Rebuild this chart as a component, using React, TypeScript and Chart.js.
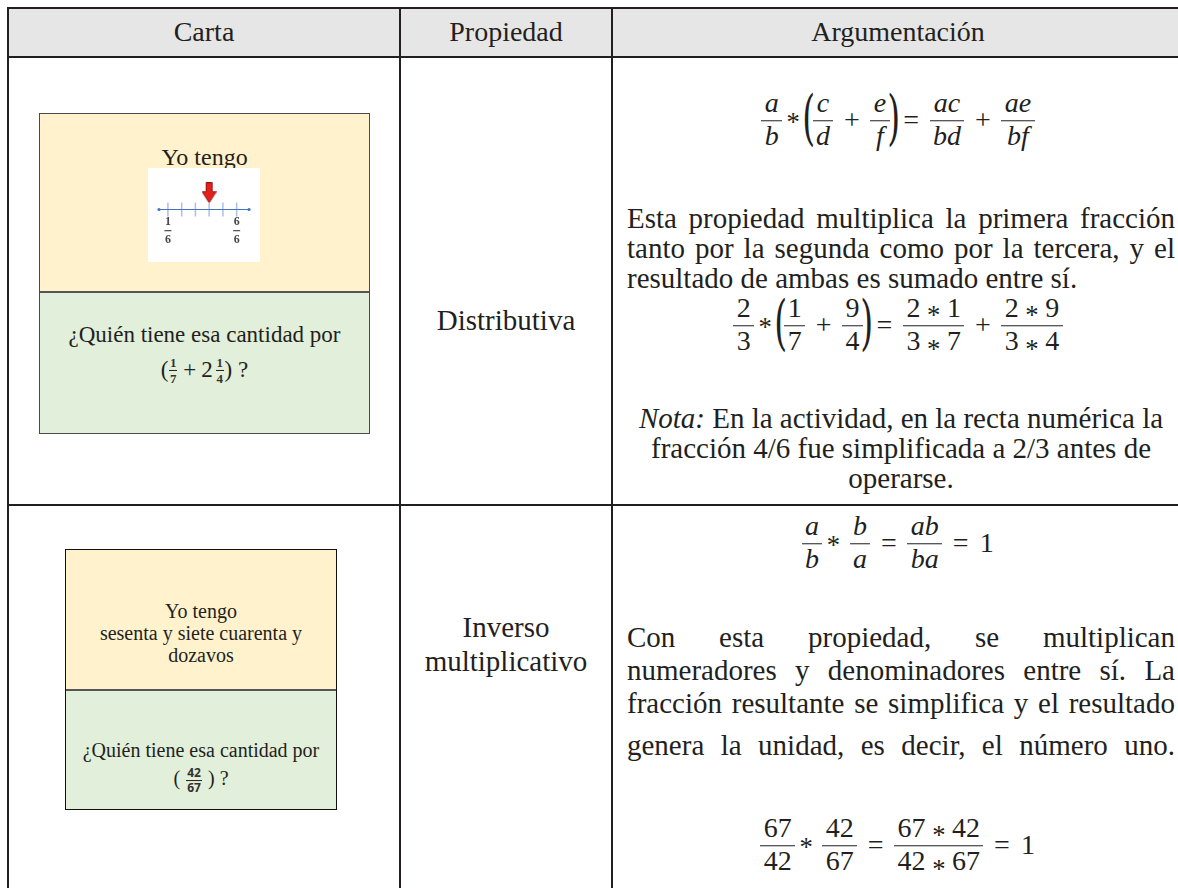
import React, { useEffect, useRef } from "react";
import Chart from "chart.js/auto";

// ---------- data ----------
const HEADERS = ["Carta", "Propiedad", "Argumentación"];
const PROPERTY_ROW1 = ["Distributiva"];
const PROPERTY_ROW2 = ["Inverso", "multiplicativo"];

const CARD1_TOP = ["Yo tengo"];
const CARD1_BOTTOM = ["¿Quién tiene esa cantidad por"];
const CARD2_TOP = ["Yo tengo", "sesenta y siete cuarenta y", "dozavos"];
const CARD2_BOTTOM = ["¿Quién tiene esa cantidad por"];

// number line in card 1
const NUMBER_LINE_TICKS = [1, 2, 3, 4, 5, 6];
const NUMBER_LINE_LABELS = [1, 6];
const NUMBER_LINE_DENOMINATOR = 6;
const NUMBER_LINE_ARROW = [4];
const NUMBER_LINE_RANGE = [0.35, 6.9];

const ROW1_TEXT = [
  "Esta propiedad multiplica la primera fracción",
  "tanto por la segunda como por la tercera, y el",
  "resultado de ambas es sumado entre sí.",
];
const ROW1_NOTE = [
  "En la actividad, en la recta numérica la",
  "fracción 4/6 fue simplificada a 2/3 antes de",
  "operarse.",
];
const ROW2_TEXT = [
  "Con esta propiedad, se multiplican",
  "numeradores y denominadores entre sí. La",
  "fracción resultante se simplifica y el resultado",
  "genera la unidad, es decir, el número uno.",
];

type Tok = string | [string, string];
const FORMULA_1: Tok[] = [["a", "b"], "*", "(", ["c", "d"], "+", ["e", "f"], ")", "=", ["ac", "bd"], "+", ["ae", "bf"]];
const FORMULA_2: Tok[] = [["2", "3"], "*", "(", ["1", "7"], "+", ["9", "4"], ")", "=", ["2*1", "3*7"], "+", ["2*9", "3*4"]];
const FORMULA_3: Tok[] = [["a", "b"], "*", ["b", "a"], "=", ["ab", "ba"], "=", "1"];
const FORMULA_4: Tok[] = [["67", "42"], "*", ["42", "67"], "=", ["67*42", "42*67"], "=", "1"];

// ---------- styling ----------
const INK = "#231f20";
const SERIF = '"Liberation Serif", "Times New Roman", serif';
const YELLOW = "#fff2cc";
const GREEN = "#e2efda";
const HEADER_BG = "#e7e6e6";

// table geometry
const X0 = 7;
const Y0 = 7;
const HEADER_B = 56;
const COL1 = 399;
const COL2 = 611;
const ROW_B = 504;
const RIGHT = 1200;
const BOTTOM = 900;
const LINE = 2;

const TEXT_L = 627;
const TEXT_W = 548;
const BODY = 29;
const MATH_SIZE = 28;

function HLine({ y }: { y: number }) {
  return <div style={{ position: "absolute", left: X0, top: y, width: RIGHT - X0, height: LINE, background: INK }} />;
}
function VLine({ x }: { x: number }) {
  return <div style={{ position: "absolute", left: x, top: Y0, width: LINE, height: BOTTOM - Y0, background: INK }} />;
}

function Txt({ cx, cy, size, children, style }: any) {
  return (
    <div
      style={{
        position: "absolute",
        left: cx - 400,
        width: 800,
        top: cy,
        transform: "translateY(-50%)",
        textAlign: "center",
        fontSize: size,
        lineHeight: 1.2,
        fontFamily: SERIF,
        color: INK,
        whiteSpace: "nowrap",
        ...style,
      }}
    >
      {children}
    </div>
  );
}

function Para({ cy, justify, center, children }: any) {
  return (
    <div
      style={{
        position: "absolute",
        left: TEXT_L,
        width: TEXT_W,
        top: cy,
        transform: "translateY(-50%)",
        fontSize: BODY,
        lineHeight: 1.2,
        fontFamily: SERIF,
        color: INK,
        textAlign: center ? "center" : justify ? "justify" : "left",
        textAlignLast: center ? "center" : justify ? "justify" : "left",
        whiteSpace: justify ? "normal" : "nowrap",
      }}
    >
      {children}
    </div>
  );
}

// star inside a fraction term, e.g. "2*1"
function Term({ s }: { s: string }) {
  const parts = s.split("*");
  return (
    <>
      {parts.map((p, i) => (
        <React.Fragment key={i}>
          {i > 0 && (
            <span style={{ position: "relative", top: "0.28em", fontSize: "0.95em", margin: "0 0.25em" }}>*</span>
          )}
          {p}
        </React.Fragment>
      ))}
    </>
  );
}

function Frac({ n, d, italic, bar = 1.4, pad = "0.12em" }: any) {
  const st: any = { lineHeight: 1, fontStyle: italic ? "italic" : "normal", whiteSpace: "pre" };
  return (
    <span style={{ display: "inline-flex", flexDirection: "column", alignItems: "center", margin: "0 0.08em" }}>
      <span style={{ ...st, padding: `0 ${pad} 0.1em` }}>
        <Term s={n} />
      </span>
      <span style={{ alignSelf: "stretch", borderTop: `${bar}px solid ${INK}` }} />
      <span style={{ ...st, padding: `0.06em ${pad} 0` }}>
        <Term s={d} />
      </span>
    </span>
  );
}

function Op({ t }: { t: string }) {
  if (t === "(" || t === ")") {
    return (
      <span
        style={{
          display: "inline-block",
          fontSize: "2.15em",
          lineHeight: 1,
          fontWeight: 300,
          transform: "scaleX(0.55)",
          margin: "0 -0.17em",
          position: "relative",
          top: "-0.04em",
          fontFamily: '"DejaVu Serif", serif',
        }}
      >
        {t}
      </span>
    );
  }
  if (t === "*") {
    return <span style={{ position: "relative", top: "0.1em", fontSize: "0.95em", margin: "0 0.28em 0 0.08em" }}>*</span>;
  }
  if (t === "1") return <span style={{ margin: "0 0.1em" }}>1</span>;
  return <span style={{ margin: "0 0.3em" }}>{t}</span>;
}

function Formula({ tokens, cx, cy, size }: { tokens: Tok[]; cx: number; cy: number; size: number }) {
  return (
    <div
      style={{
        position: "absolute",
        left: cx - 300,
        width: 600,
        top: cy,
        transform: "translateY(-50%)",
        display: "flex",
        justifyContent: "center",
        alignItems: "center",
        fontFamily: SERIF,
        fontSize: size,
        color: INK,
        whiteSpace: "nowrap",
      }}
    >
      {tokens.map((t, i) =>
        Array.isArray(t) ? (
          <Frac key={i} n={t[0]} d={t[1]} italic={/[a-z]/.test(t[0])} />
        ) : (
          <Op key={i} t={t} />
        )
      )}
    </div>
  );
}

// ---------- number line (Chart.js) ----------
function makeArrow() {
  const c = document.createElement("canvas");
  c.width = 15;
  c.height = 21;
  const g = c.getContext("2d")!;
  g.fillStyle = "#e3211c";
  g.strokeStyle = "#9c1010";
  g.lineWidth = 1;
  g.beginPath();
  g.moveTo(4.5, 0.5);
  g.lineTo(10.5, 0.5);
  g.lineTo(10.5, 9.5);
  g.lineTo(14.5, 9.5);
  g.lineTo(7.5, 20.5);
  g.lineTo(0.5, 9.5);
  g.lineTo(4.5, 9.5);
  g.closePath();
  g.fill();
  g.stroke();
  return c;
}

const ARROW_Y = 0.55;
const LABEL_Y = -0.69;

function NumberLine() {
  const ref = useRef<HTMLCanvasElement>(null);
  useEffect(() => {
    if (!ref.current) return;
    const labels = {
      id: "fractionLabels",
      afterDatasetsDraw(chart: any) {
        const { ctx, scales } = chart;
        ctx.save();
        ctx.fillStyle = "#4a4a4a";
        ctx.font = 'bold 12px "Liberation Serif", serif';
        ctx.textAlign = "center";
        ctx.textBaseline = "middle";
        NUMBER_LINE_LABELS.forEach((n) => {
          const px = scales.x.getPixelForValue(n);
          const py = scales.y.getPixelForValue(LABEL_Y);
          ctx.fillText(String(n), px, py - 8.5);
          ctx.fillRect(px - 3.5, py - 0.5, 7, 1.2);
          ctx.fillText(String(NUMBER_LINE_DENOMINATOR), px, py + 9.5);
        });
        ctx.restore();
      },
    };
    const chart = new Chart(ref.current, {
      type: "scatter",
      data: {
        datasets: [
          {
            type: "line",
            data: NUMBER_LINE_RANGE.map((v) => ({ x: v, y: 0 })),
            borderColor: "#4472c4",
            borderWidth: 1,
            pointRadius: 0,
            clip: false,
          } as any,
          {
            data: NUMBER_LINE_TICKS.map((v) => ({ x: v, y: 0 })),
            pointStyle: "line",
            pointRotation: 90,
            pointRadius: 7,
            pointBorderColor: "#a9c0e8",
            pointBorderWidth: 1.5,
            clip: false,
          } as any,
          {
            data: NUMBER_LINE_RANGE.map((v) => ({ x: v, y: 0 })),
            pointStyle: "circle",
            pointRadius: 1.6,
            pointBackgroundColor: "#4472c4",
            pointBorderWidth: 0,
            clip: false,
          } as any,
          {
            data: NUMBER_LINE_ARROW.map((v) => ({ x: v, y: ARROW_Y })),
            pointStyle: makeArrow(),
            pointRadius: 10,
            clip: false,
          } as any,
        ],
      },
      options: {
        responsive: false,
        animation: false,
        events: [],
        layout: { padding: { left: 9, right: 7, top: 0, bottom: 0 } },
        plugins: { legend: { display: false }, tooltip: { enabled: false } },
        scales: {
          x: { type: "linear", display: false, min: NUMBER_LINE_RANGE[0], max: NUMBER_LINE_RANGE[1] },
          y: { display: false, min: -1.36, max: 1 },
        },
      } as any,
      plugins: [labels],
    });
    return () => chart.destroy();
  }, []);
  return (
    <div style={{ position: "absolute", left: 148, top: 168, width: 112, height: 94, background: "#fff" }}>
      <canvas ref={ref} width={112} height={94} style={{ display: "block" }} />
    </div>
  );
}

function Card({ left, top, width, height, split, border }: any) {
  return (
    <div
      style={{
        position: "absolute",
        left,
        top,
        width,
        height,
        boxSizing: "border-box",
        border: `1.5px solid ${border}`,
        background: GREEN,
      }}
    >
      <div
        style={{
          position: "absolute",
          left: 0,
          top: 0,
          right: 0,
          height: split - top - 1.5,
          background: YELLOW,
          borderBottom: `2px solid #555`,
        }}
      />
    </div>
  );
}

export default function App() {
  const colMid1 = (X0 + COL1) / 2 + 1;
  const colMid2 = (COL1 + COL2) / 2 + 1;
  const colMid3 = 898;
  return (
    <div
      style={{
        position: "fixed",
        left: 0,
        top: 0,
        width: 1178,
        height: 888,
        overflow: "hidden",
        background: "#fff",
      }}
    >
      {/* header background */}
      <div style={{ position: "absolute", left: X0, top: Y0, width: RIGHT - X0, height: HEADER_B - Y0, background: HEADER_BG }} />
      <HLine y={Y0} />
      <HLine y={HEADER_B} />
      <HLine y={ROW_B} />
      <VLine x={X0} />
      <VLine x={COL1} />
      <VLine x={COL2} />

      <Txt cx={colMid1} cy={32} size={28}>{HEADERS[0]}</Txt>
      <Txt cx={colMid2} cy={32} size={28}>{HEADERS[1]}</Txt>
      <Txt cx={colMid3} cy={32} size={28}>{HEADERS[2]}</Txt>

      {/* row 1 : card */}
      <Card left={39} top={113} width={331} height={321} split={291} border="#4a4a4a" />
      <Txt cx={204.5} cy={157} size={24}>{CARD1_TOP[0]}</Txt>
      <NumberLine />
      <Txt cx={204.5} cy={335} size={23}>{CARD1_BOTTOM[0]}</Txt>
      <div
        style={{
          position: "absolute",
          left: 4.5,
          width: 400,
          top: 370,
          transform: "translateY(-50%)",
          display: "flex",
          justifyContent: "center",
          alignItems: "center",
          fontFamily: SERIF,
          fontSize: 23,
          color: INK,
        }}
      >
        <span>(</span>
        <span style={{ fontSize: 13, fontWeight: 700, color: "#333" }}>
          <Frac n="1" d="7" bar={1} pad="0.05em" />
        </span>
        <span style={{ margin: "0 5px" }}>+</span>
        <span>2</span>
        <span style={{ fontSize: 13, fontWeight: 700, color: "#333", marginLeft: 2 }}>
          <Frac n="1" d="4" bar={1} pad="0.05em" />
        </span>
        <span>)&nbsp;?</span>
      </div>

      {/* row 1 : property */}
      <Txt cx={colMid2} cy={320} size={BODY}>{PROPERTY_ROW1[0]}</Txt>

      {/* row 1 : argument */}
      <Formula tokens={FORMULA_1} cx={colMid3} cy={120} size={MATH_SIZE} />
      <Para cy={218} justify>{ROW1_TEXT[0]}</Para>
      <Para cy={248} justify>{ROW1_TEXT[1]}</Para>
      <Para cy={278}>{ROW1_TEXT[2]}</Para>
      <Formula tokens={FORMULA_2} cx={colMid3} cy={325} size={MATH_SIZE} />
      <Para cy={418} center>
        <i>Nota:</i> {ROW1_NOTE[0]}
      </Para>
      <Para cy={448} center>{ROW1_NOTE[1]}</Para>
      <Para cy={478} center>{ROW1_NOTE[2]}</Para>

      {/* row 2 : card */}
      <Card left={65} top={549} width={272} height={261} split={689} border="#111" />
      <Txt cx={201} cy={611} size={20}>{CARD2_TOP[0]}</Txt>
      <Txt cx={201} cy={633} size={20}>{CARD2_TOP[1]}</Txt>
      <Txt cx={201} cy={655} size={20}>{CARD2_TOP[2]}</Txt>
      <Txt cx={201} cy={750} size={20}>{CARD2_BOTTOM[0]}</Txt>
      <div
        style={{
          position: "absolute",
          left: 1,
          width: 400,
          top: 779,
          transform: "translateY(-50%)",
          display: "flex",
          justifyContent: "center",
          alignItems: "center",
          fontFamily: SERIF,
          fontSize: 20,
          color: INK,
        }}
      >
        <span>(&nbsp;</span>
        <span style={{ fontSize: 12, fontWeight: 700, fontFamily: '"Open Sans", sans-serif', color: "#333" }}>
          <Frac n="42" d="67" bar={1} pad="0.1em" />
        </span>
        <span>&nbsp;)&nbsp;?</span>
      </div>

      {/* row 2 : property */}
      <Txt cx={colMid2} cy={627} size={BODY}>{PROPERTY_ROW2[0]}</Txt>
      <Txt cx={colMid2} cy={661} size={BODY}>{PROPERTY_ROW2[1]}</Txt>

      {/* row 2 : argument */}
      <Formula tokens={FORMULA_3} cx={colMid3} cy={543} size={MATH_SIZE} />
      <Para cy={637} justify>{ROW2_TEXT[0]}</Para>
      <Para cy={670} justify>{ROW2_TEXT[1]}</Para>
      <Para cy={703} justify>{ROW2_TEXT[2]}</Para>
      <Para cy={745} justify>{ROW2_TEXT[3]}</Para>
      <Formula tokens={FORMULA_4} cx={colMid3} cy={845} size={MATH_SIZE} />
    </div>
  );
}
